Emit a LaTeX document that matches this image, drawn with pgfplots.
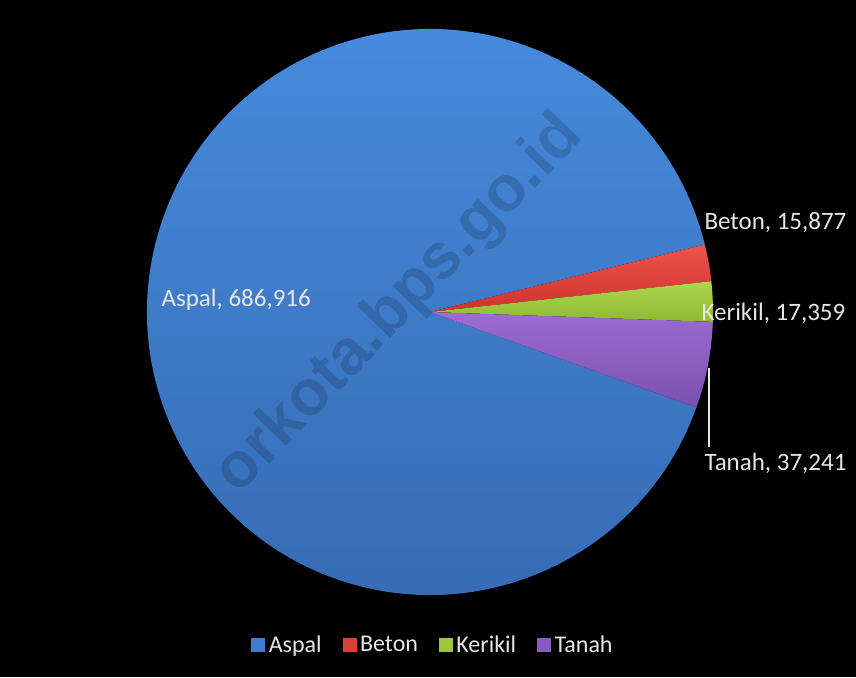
\documentclass[border=0pt]{standalone}
\usepackage{pgfplots}
\pgfplotsset{compat=1.18}
\usepackage{pgfplotstable}
\usepackage{fontspec}
\setmainfont{Carlito}
\newfontfamily\wmfont{Liberation Sans}

\definecolor{pie0top}{RGB}{70,140,222}
\definecolor{pie0bot}{RGB}{54,106,178}
\definecolor{pie1}{RGB}{224,62,56}
\definecolor{pie1top}{RGB}{236,84,76}
\definecolor{pie1bot}{RGB}{206,50,46}
\definecolor{pie2}{RGB}{156,200,60}
\definecolor{pie2top}{RGB}{176,214,76}
\definecolor{pie2bot}{RGB}{140,186,50}
\definecolor{pie3}{RGB}{138,92,192}
\definecolor{pie3top}{RGB}{156,108,208}
\definecolor{pie3bot}{RGB}{122,80,176}
\definecolor{pie0}{RGB}{62,126,208}
\definecolor{labelgray}{RGB}{230,230,230}

\pgfplotstableread{
name value
Aspal 686916
Beton 15877
Kerikil 17359
Tanah 37241
}\pietable

% slice angles, clockwise, starting where Aspal begins
\def\piestart{340.3}
\def\pietotal{0}
\pgfplotstableforeachcolumnelement{value}\of\pietable\as\v{\xdef\pietotal{\fpeval{\pietotal+\v}}}
\xdef\pieangle{\piestart}
\pgfplotstableforeachcolumnelement{value}\of\pietable\as\v{%
  \expandafter\xdef\csname pieS\pgfplotstablerow\endcsname{\pieangle}%
  \xdef\pieangle{\fpeval{\pieangle-360*\v/\pietotal}}%
  \expandafter\xdef\csname pieE\pgfplotstablerow\endcsname{\pieangle}}

\begin{document}
\begin{tikzpicture}
\begin{axis}[
    scale only axis,
    width=856pt, height=677pt,
    xmin=0, xmax=856, ymin=0, ymax=677,
    y dir=reverse,
    hide axis,
    clip=false,
    axis background/.style={fill=black},
    legend image code/.code={\fill[#1] (0pt,-6.5pt) rectangle (13pt,6.5pt);},
    legend style={at={(axis cs:433,645)}, anchor=center, draw=none, fill=none,
        text=labelgray, font=\fontsize{24}{28}\selectfont,
        legend columns=-1,
        /tikz/every odd column/.append style={column sep=2pt},
        /tikz/every even column/.append style={column sep=19pt}},
]
\fill[black] (axis cs:0,0) rectangle (axis cs:856,677);
\pgfplotsinvokeforeach{0,...,3}{
  \shade[top color=pie#1top, bottom color=pie#1bot]
    (axis cs:430,312) -- ++(\csname pieS#1\endcsname:283pt)
    arc[start angle=\csname pieS#1\endcsname, end angle=\csname pieE#1\endcsname, radius=283pt]
    -- cycle;
}
% watermark
\node[rotate=46, text=black, opacity=0.16, font=\wmfont\bfseries\fontsize{64}{64}\selectfont]
  at (axis cs:400,305) {orkota.bps.go.id};

\node[anchor=west, text=labelgray, font=\fontsize{25}{29}\selectfont] at (axis cs:158,300) {Aspal, 686,916};
\node[anchor=west, text=labelgray, font=\fontsize{25}{29}\selectfont] at (axis cs:701,223) {Beton, 15,877};
\node[anchor=west, text=labelgray, font=\fontsize{25}{29}\selectfont] at (axis cs:698,313) {Kerikil, 17,359};
\node[anchor=west, text=labelgray, font=\fontsize{25}{29}\selectfont] at (axis cs:701,463) {Tanah, 37,241};
\draw[labelgray, line width=1.5pt] (axis cs:709,368) -- (axis cs:709,447);

\addlegendimage{pie0}\addlegendentry{Aspal}
\addlegendimage{pie1}\addlegendentry{Beton}
\addlegendimage{pie2}\addlegendentry{Kerikil}
\addlegendimage{pie3}\addlegendentry{Tanah}
\end{axis}
\pgfresetboundingbox
\useasboundingbox (current axis.south west) rectangle (current axis.north east);
\end{tikzpicture}
\end{document}
